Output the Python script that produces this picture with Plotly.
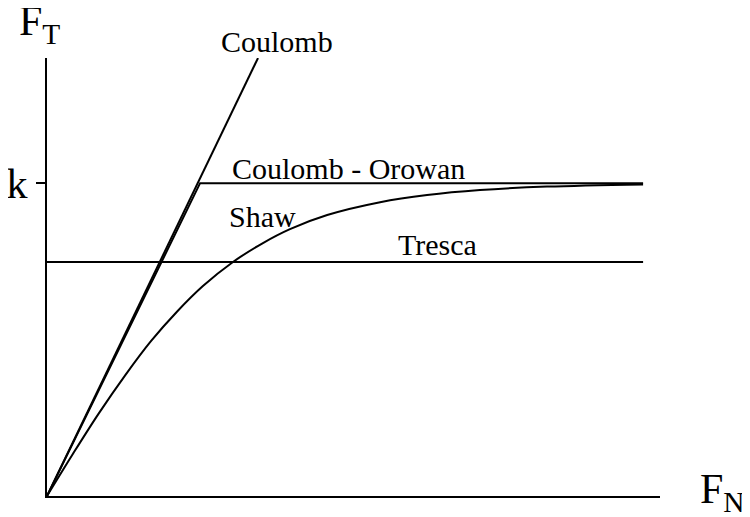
import plotly.graph_objects as go

# values, in units where k = 1
coulomb_x = [0, 0.674]
coulomb_y = [0, 1.40]

orowan_x = [0, 0.489, 1.904]
orowan_y = [0, 1.0, 1.0]

tresca_x = [0, 1.904]
tresca_y = [0.748, 0.748]

shaw_x = [0, 0.083, 0.166, 0.249, 0.332, 0.415, 0.498, 0.594, 0.687,
          0.776, 0.895, 1.064, 1.214, 1.383, 1.597, 1.904]
shaw_y = [0, 0.135, 0.265, 0.385, 0.495, 0.589, 0.671, 0.748, 0.807,
          0.853, 0.898, 0.939, 0.962, 0.978, 0.989, 0.996]

k_tick = [1.0]
k_label = ["k"]

serif = "Liberation Serif"
line = dict(color="black", width=2)

fig = go.Figure()
for xs, ys in [(coulomb_x, coulomb_y), (orowan_x, orowan_y), (tresca_x, tresca_y)]:
    fig.add_trace(go.Scatter(x=xs, y=ys, mode="lines", line=line,
                             hoverinfo="skip", showlegend=False))
fig.add_trace(go.Scatter(x=shaw_x, y=shaw_y, mode="lines",
                         line=dict(color="black", width=2, shape="spline", smoothing=1),
                         hoverinfo="skip", showlegend=False))

# curve labels (y in paper units so nothing above the range gets hidden)
labels = [
    ("Coulomb", 0.735, 1.037),
    ("Coulomb - Orowan", 0.962, 0.747),
    ("Shaw", 0.687, 0.639),
    ("Tresca", 1.246, 0.575),
]
for text, x, y in labels:
    fig.add_annotation(x=x, y=y, xref="x", yref="paper", text=text, showarrow=False,
                       xanchor="center", yanchor="middle",
                       font=dict(family=serif, size=30, color="black"))

# axis titles
fig.add_annotation(xref="paper", yref="paper", x=-0.049, y=1.078,
                   text="F<sub>T</sub>", showarrow=False, xanchor="left",
                   yanchor="middle", font=dict(family=serif, size=42, color="black"))
fig.add_annotation(xref="paper", yref="paper", x=1.062, y=0.009,
                   text="F<sub>N</sub>", showarrow=False, xanchor="left",
                   yanchor="middle", font=dict(family=serif, size=42, color="black"))

fig.update_xaxes(range=[0, 1.958], showline=True, linecolor="black", linewidth=2,
                 showgrid=False, zeroline=False, showticklabels=False, ticks="",
                 automargin=False)
fig.update_yaxes(range=[0, 1.40], showline=True, linecolor="black", linewidth=2,
                 showgrid=False, zeroline=False, tickvals=k_tick, ticktext=k_label,
                 ticks="outside", ticklen=9, tickwidth=2, tickcolor="black",
                 tickfont=dict(family=serif, size=42, color="black"),
                 automargin=False)

# page body adds an 8px offset, so the margins are trimmed to match
fig.update_layout(width=742, height=509, plot_bgcolor="white", paper_bgcolor="white",
                  margin=dict(l=39, r=90, t=50, b=21))

fig.write_html("out.html")
